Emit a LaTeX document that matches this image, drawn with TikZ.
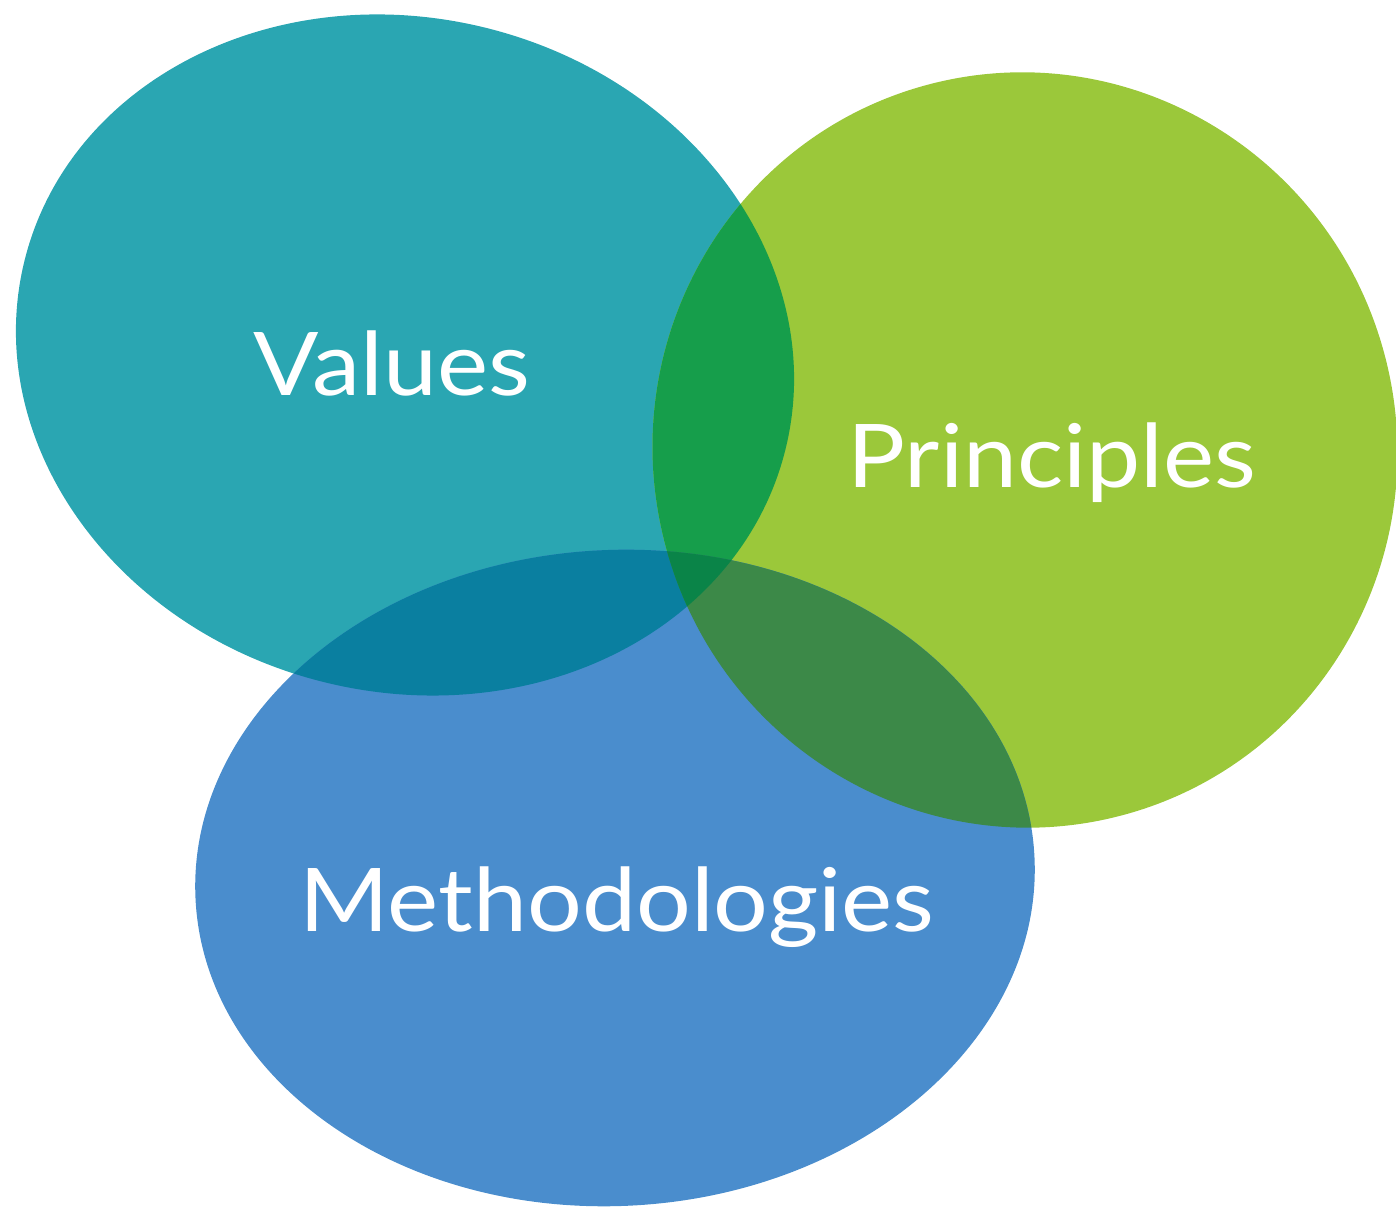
\documentclass[tikz,border=0pt]{standalone}
\usepackage{fontspec}
\setmainfont{Lato}
\definecolor{valcol}{RGB}{42,166,178}
\definecolor{pricol}{RGB}{155,200,58}
\definecolor{metcol}{RGB}{74,141,205}
\definecolor{valpri}{RGB}{22,158,75}
\definecolor{valmet}{RGB}{10,127,160}
\definecolor{primet}{RGB}{60,137,72}
\definecolor{allcol}{RGB}{10,132,72}
\newcommand{\valuesblob}{(405,860) ellipse [x radius=392, y radius=337, rotate=-14]}
\newcommand{\principlesblob}{(1025,765) ellipse [x radius=372, y radius=378, rotate=15]}
\newcommand{\methodsblob}{(615,337) ellipse [x radius=420, y radius=328, rotate=3]}

\begin{document}
\begin{tikzpicture}[x=0.01cm, y=0.01cm,
    lbl/.style={text=white, xscale=1.1, font=\fontsize{25}{30}\selectfont}]
    \useasboundingbox (0,0) rectangle (1396,1215);
    % Drei Flaechen
    \fill[valcol] \valuesblob;
    \fill[pricol] \principlesblob;
    \fill[metcol] \methodsblob;
    % Ueberschneidungen
    \begin{scope}
        \clip \valuesblob;
        \fill[valpri] \principlesblob;
        \fill[valmet] \methodsblob;
    \end{scope}
    \begin{scope}
        \clip \principlesblob;
        \fill[primet] \methodsblob;
        \clip \valuesblob;
        \fill[allcol] \methodsblob;
    \end{scope}
    % Beschriftungen
    \node[lbl] (values) at (392,852) {Values};
    \node[lbl] (principles) at (1052,752) {Principles};
    \node[lbl] (methods) at (617,308) {Methodologies};
\end{tikzpicture}
\end{document}
